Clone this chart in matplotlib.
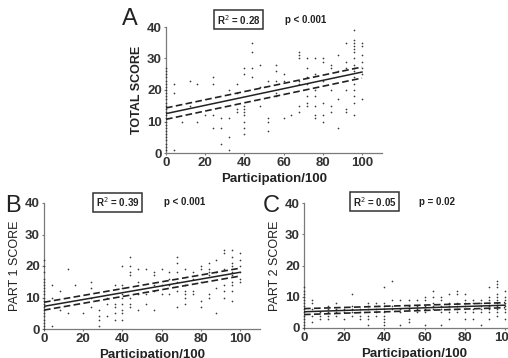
import matplotlib

matplotlib.use("Agg")

import matplotlib.pyplot as plt
import numpy as np

# participation (x) -> list of scores (y), read column by column
total_cols = {
    0: list(range(1, 28)),
    4: [22, 19, 1], 8: [10], 12: [23, 15], 16: [22, 10], 20: [12],
    24: [24, 22, 12, 8], 28: [11, 8, 3], 32: [20, 11, 5, 1],
    36: [22, 19, 14, 13], 40: [27, 25, 15, 14, 13, 12, 10, 8, 6],
    44: [35, 32, 27, 24], 48: [28, 21, 15], 52: [23, 11, 10, 7],
    56: [28, 26, 23, 19, 18], 60: [25, 23, 11], 64: [12],
    68: [32, 31, 30, 23, 22, 15, 13], 72: [30, 27, 24, 22, 18, 16, 15],
    76: [30, 25, 20, 18, 15, 12, 11], 80: [30, 29, 23, 16, 12, 10],
    84: [28, 27, 20, 15, 13], 88: [31, 26, 17, 8],
    92: [35, 29, 27, 20, 14, 13],
    96: [39, 36, 35, 34, 33, 32, 30, 28, 27, 26, 24, 22, 20, 18, 16, 12],
    100: [35, 34, 31, 29, 27, 25, 17],
}
part1_cols = {
    0: list(range(0, 17)) + [18, 20, 22],
    4: [14, 10, 1], 8: [12, 6], 12: [19, 5], 16: [14], 20: [5],
    24: [15, 13, 10, 7], 28: [6, 4, 3, 1], 32: [10, 8, 4],
    36: [14, 8, 7, 5, 3], 40: [20, 14, 13, 11, 10, 8, 6, 5, 3],
    44: [23, 20, 18, 17, 10, 8, 7], 48: [19, 15, 11, 6], 52: [19, 11, 8],
    56: [18, 17, 14, 12, 6], 60: [19, 14, 11], 64: [18, 16, 14, 11],
    68: [23, 21, 18, 15, 12, 7], 72: [19, 14, 12, 11, 10, 8],
    76: [18, 16, 12, 11], 80: [20, 19, 15, 9, 7],
    84: [21, 19, 18, 17, 11, 10], 88: [22, 18, 13, 5],
    92: [25, 24, 19, 14, 12, 10],
    96: [25, 23, 21, 20, 18, 17, 15, 14, 12, 9],
    100: [24, 22, 20, 18, 16, 15],
}
part2_cols = {
    0: list(range(0, 14)),
    4: [9, 8, 6, 4, 2], 8: [5, 4, 3], 12: [7, 6, 5, 4, 3], 16: [8, 6, 5, 4],
    20: [6, 5, 3], 24: [11, 7, 6, 5, 4], 28: [6, 5, 4, 3],
    32: [8, 7, 6, 4, 3, 1], 36: [8, 6, 5, 4],
    40: [13, 8, 7, 6, 5, 4, 3, 2, 1], 44: [15, 9, 7, 6], 48: [9, 6, 5, 1],
    52: [9, 7, 6, 3, 2], 56: [9, 7, 6, 5], 60: [10, 9, 7, 6, 5, 1],
    64: [12, 10, 8, 7, 6], 68: [10, 9, 7, 6, 5, 1], 72: [11, 8, 7, 6, 5, 3],
    76: [12, 11, 8, 7, 6, 5], 80: [11, 9, 8, 7, 5, 3], 84: [9, 8, 6, 5, 3],
    88: [9, 8, 7, 6, 5, 1], 92: [13, 10, 9, 8, 7, 6, 5, 3],
    96: [15, 14, 13, 11, 10, 9, 8, 7, 6, 5, 4],
    100: [12, 10, 9, 8, 7, 6, 5, 3],
}

# fitted line and 95% band at x = 0 and x = 100
fit_x = [0, 100]
total_fit = [12.5, 25.7]
total_hi = [14.3, 27.3]
total_lo = [10.7, 23.8]
part1_fit = [7.2, 18.0]
part1_hi = [8.5, 19.3]
part1_lo = [6.0, 16.8]
part2_fit = [5.2, 7.3]
part2_hi = [6.2, 8.1]
part2_lo = [4.3, 6.5]

panels = [
    # letter, ylabel, bold ylabel, cols, fit, hi, lo, r2, p
    ("A", "TOTAL SCORE", True, total_cols, total_fit, total_hi, total_lo, "0.28", "p < 0.001"),
    ("B", "PART 1 SCORE", False, part1_cols, part1_fit, part1_hi, part1_lo, "0.39", "p < 0.001"),
    ("C", "PART 2 SCORE", False, part2_cols, part2_fit, part2_hi, part2_lo, "0.05", "p = 0.02"),
]

W, H = 508, 358
# axes in pixels: left, y of 0, px per x unit, y of 40
rects = [
    (166, 153, 1.96, 27),
    (44, 329, 1.96, 203),
    (304, 328, 2.01, 203),
]
# annotation positions in data units: letter, r2 box, p text
annots = [
    ((-18.5, 42.5), (37, 42.3), (71, 42.3)),
    ((-16, 39.0), (37.5, 40.2), (72, 40.2)),
    ((-16.5, 39.0), (35, 40.4), (66, 40.4)),
]

fig = plt.figure(figsize=(W / 100, H / 100), dpi=100)
fig.patch.set_facecolor("white")
plt.rcParams["font.family"] = ["Liberation Sans", "DejaVu Sans"]

spine_col = "#7a7a7a"
for (letter, ylab, ybold, cols, fit, hi, lo, r2, ptxt), (l, b, ppu, t), (la, ra, pa) in zip(panels, rects, annots):
    width = ppu * 110
    ax = fig.add_axes([l / W, 1 - b / H, width / W, (b - t) / H])
    xs = np.concatenate([[k] * len(v) for k, v in cols.items()])
    ys = np.concatenate([v for v in cols.values()])
    ax.scatter(xs, ys, s=1.5, color="#3a3a3a", linewidths=0, clip_on=False, zorder=3)
    ax.plot(fit_x, fit, color="#222222", lw=1.1, zorder=4)
    ax.plot(fit_x, hi, color="#222222", lw=1.2, ls=(0, (4, 2)), zorder=4)
    ax.plot(fit_x, lo, color="#222222", lw=1.2, ls=(0, (4, 2)), zorder=4)

    ax.set_xlim(0, 110)
    ax.set_ylim(0, 40)
    ax.set_xticks([0, 20, 40, 60, 80, 100])
    ax.set_yticks([0, 10, 20, 30, 40])
    for s in ("top", "right"):
        ax.spines[s].set_visible(False)
    for s in ("left", "bottom"):
        ax.spines[s].set_color(spine_col)
        ax.spines[s].set_linewidth(0.9)
    ax.tick_params(color=spine_col, direction="out", width=0.8, length=1.5, pad=1.5,
                   labelsize=9.5, labelcolor="#333333")
    for lab in ax.get_xticklabels() + ax.get_yticklabels():
        lab.set_fontweight("bold")
    ax.set_facecolor("none")

    ax.set_xlabel("Participation/100", fontsize=9.5, fontweight="bold", color="#222222", labelpad=3)
    ax.set_ylabel(ylab, fontsize=9, fontweight="bold" if ybold else "normal",
                  color="#222222", labelpad=3)

    ax.text(*la, letter, fontsize=17, ha="center", va="center", color="#222222", clip_on=False)
    ax.text(*ra, f"R$^2$ = {r2}", fontsize=7, fontweight="bold", ha="center", va="center",
            color="#222222", clip_on=False,
            bbox=dict(boxstyle="square,pad=0.25", fc="white", ec="#333333", lw=1.1))
    ax.text(*pa, ptxt, fontsize=7, fontweight="bold", ha="center", va="center",
            color="#222222", clip_on=False)

fig.savefig("out.png", dpi=100, facecolor="white")
